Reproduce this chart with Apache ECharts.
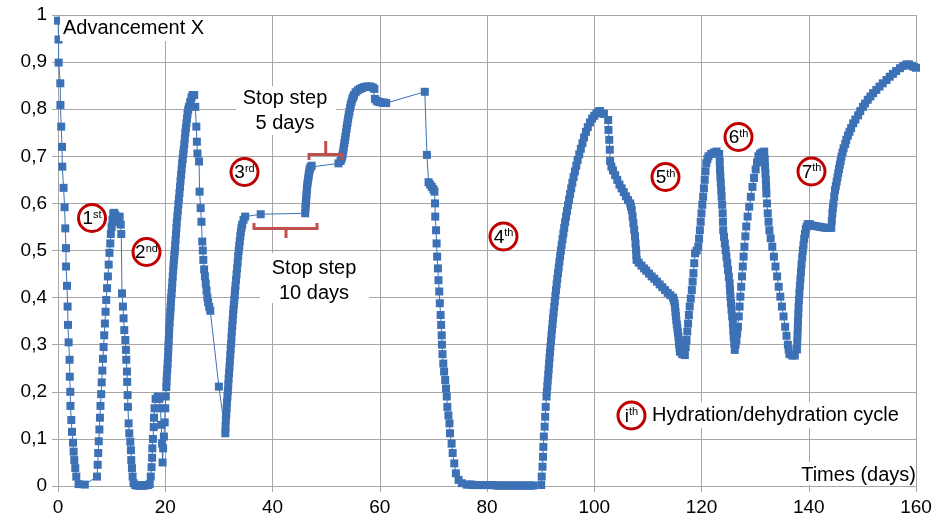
<!DOCTYPE html>
<html><head><meta charset="utf-8">
<script src="https://cdn.jsdelivr.net/npm/echarts@6/dist/echarts.min.js"></script>
<style>html,body{margin:0;padding:0;background:#fff}#c{width:938px;height:522px}</style>
</head><body><div id="c"></div>
<script>
// Time (days) of each measured point
const days = [
 0,0.1,0.12,0.43,0.45,0.6,0.75,0.8,1.04,1.23,1.36,1.49,1.5,1.68,1.79,1.86,1.98,2.16,2.2,2.29,2.32,2.48,2.61,2.8,2.91,3.04,3.22,3.41,3.84,5.0,
 7.27,7.4,7.5,7.6,7.72,7.82,7.92,8.05,8.15,8.27,8.38,8.5,8.62,8.75,8.87,9.0,9.15,9.3,9.45,9.6,
 9.75,9.85,10.0,10.15,10.3,10.5,10.7,10.9,11.1,11.3,11.5,11.7,11.8,
 11.93,12.11,12.23,12.36,12.55,12.67,12.73,12.86,12.9,12.98,13.04,13.17,13.29,13.48,13.6,13.66,13.79,13.91,14.1,
 14.4,14.7,15.0,15.3,15.6,15.9,16.2,16.5,16.8,17.1,
 17.3,17.45,17.55,17.6,17.7,17.85,17.9,18.0,18.2,18.6,18.9,19.1,19.25,19.4,19.5,19.6,19.75,19.9,20.0,20.1,
 20.2,20.25,20.3,20.38,20.45,20.5,20.55,20.6,20.65,20.7,20.75,20.82,20.9,20.95,21.0,21.05,21.1,21.18,21.25,21.32,21.4,21.48,21.55,21.62,21.7,21.78,21.85,21.92,22.0,22.08,22.15,22.25,22.35,22.45,22.55,22.65,22.75,22.85,22.95,23.05,23.15,23.25,23.35,23.45,23.55,23.65,23.75,23.85,23.95,24.05,24.15,24.28,24.4,24.65,24.9,25.1,25.4,
 25.6,25.8,25.9,26.0,26.3,26.4,26.6,26.75,26.9,27.0,27.1,27.25,27.4,27.55,27.7,27.85,28.0,28.2,28.4,30.0,31.2,
 31.25,31.3,31.38,31.45,31.52,31.6,31.68,31.75,31.82,31.9,31.98,32.05,32.12,32.2,32.28,32.35,32.42,32.5,32.58,32.65,32.72,32.8,32.88,32.95,33.02,33.1,33.2,33.3,33.4,33.5,33.6,33.7,33.8,33.9,34.0,34.1,34.22,34.35,34.6,34.9,
 37.8,46.1,46.15,46.2,46.25,46.3,46.35,46.4,46.45,46.52,46.6,46.68,46.75,46.82,46.9,47.0,47.1,47.3,
 52.3,52.7,52.9,53.0,53.1,53.2,53.3,53.4,53.5,53.6,53.7,53.8,53.9,54.0,54.1,54.22,54.35,54.48,54.6,54.75,54.9,55.05,55.2,55.5,55.9,56.3,56.7,57.1,57.5,57.9,58.3,58.7,59.0,
 59.1,59.4,59.7,60.0,60.4,60.8,61.2,68.4,68.8,69.1,69.4,69.7,70.0,70.2,
 70.3,70.35,70.5,70.6,70.7,70.85,70.95,71.1,71.2,71.35,71.45,71.55,71.6,71.7,71.85,72.0,72.2,72.35,72.5,72.6,72.8,73.0,73.1,73.4,73.6,73.9,74.2,74.7,75.3,76.2,
 76.7,77.2,77.7,78.2,78.7,79.2,79.7,80.2,80.7,81.2,81.7,82.2,82.7,83.2,83.7,84.2,84.7,85.2,85.7,86.2,86.7,87.2,87.7,88.2,88.6,
 90.1,90.2,90.35,90.45,90.5,90.6,90.75,90.85,90.95,91.1,
 91.17,91.25,91.33,91.42,91.5,91.58,91.66,91.75,91.84,91.93,
 92.02,92.12,92.22,92.32,92.42,92.53,92.64,92.75,92.87,92.99,
 93.11,93.24,93.37,93.5,93.64,93.78,93.93,94.08,94.24,94.4,
 94.57,94.74,94.92,95.1,95.3,95.5,95.7,95.92,96.15,96.4,
 96.65,96.9,97.2,97.5,97.8,98.1,98.45,98.8,99.2,99.6,
 100.0,100.4,100.8,101.1,
 101.8,102.6,102.65,102.8,102.9,102.95,103.2,103.5,103.9,104.3,104.7,105.1,105.5,105.9,106.3,106.7,106.85,107.0,107.15,107.3,107.45,107.6,107.7,107.8,107.85,107.9,
 108.3,108.8,109.3,109.7,110.2,110.7,111.2,111.7,112.2,112.7,113.2,113.7,114.2,114.7,
 114.85,115.0,115.08,115.15,115.22,115.3,115.4,115.5,115.6,115.7,115.78,115.85,115.92,116.0,116.4,116.9,
 117.05,117.2,117.35,117.5,117.65,117.8,118.0,118.2,118.35,118.5,
 118.65,118.8,119.1,119.4,119.55,119.7,119.85,120.0,120.15,120.3,
 120.45,120.6,120.75,120.9,121.1,121.3,121.8,122.3,122.8,123.3,
 123.4,123.45,123.52,123.6,123.68,123.75,123.85,123.95,124.0,124.05,
 124.2,124.35,124.5,124.65,124.8,124.95,125.1,125.25,125.32,125.4,
 125.5,125.6,125.72,125.85,125.92,126.0,126.1,126.2,
 126.35,126.5,126.65,126.8,126.95,127.1,127.25,127.4,127.55,127.7,
 127.85,128.0,128.18,128.35,128.6,128.9,129.2,129.5,129.8,130.1,
 130.35,130.6,130.9,131.2,131.7,
 131.8,131.85,131.92,132.0,132.05,132.1,132.22,132.35,132.5,132.65,
 132.9,133.2,133.5,133.8,134.1,134.4,134.7,135.0,135.3,135.6,
 135.85,136.1,136.25,136.4,136.9,137.4,
 137.8,137.85,137.9,137.95,138.0,138.05,138.1,138.17,138.25,138.35,
 138.45,138.55,138.65,138.78,138.9,139.02,139.15,139.3,139.45,139.6,139.8,
 140.2,140.7,141.2,141.7,142.2,142.7,143.2,143.7,144.2,
 144.3,144.4,144.5,144.6,144.75,144.9,145.05,145.2,145.35,145.5,
 145.65,145.8,145.95,146.1,146.3,146.5,146.8,147.0,147.3,147.6,
 147.9,148.3,148.7,149.2,149.6,150.1,150.5,151.0,151.5,152.0,
 152.6,153.2,153.8,154.5,155.1,155.7,156.3,157.0,157.6,158.2,
 158.7,159.2,159.6,160.0
];
// Advancement X at each point
const advancement = [
 0.988,0.948,0.899,0.855,0.809,0.763,0.72,0.678,0.633,0.592,0.547,0.505,0.466,0.425,0.381,0.342,0.305,0.268,0.232,0.2,0.17,0.14,0.115,0.092,0.073,0.055,0.038,0.02,0.004,0.003,
 0.02,0.045,0.07,0.095,0.12,0.145,0.17,0.195,0.22,0.245,0.27,0.295,0.32,0.345,0.37,0.395,0.42,0.445,0.47,0.495,
 0.515,0.535,0.55,0.565,0.578,0.58,0.575,0.565,0.56,0.57,0.572,0.555,0.535,
 0.409,0.381,0.356,0.331,0.31,0.289,0.268,0.243,0.221,0.193,0.168,0.133,0.112,0.094,0.076,0.055,0.038,0.02,0.006,
 0.002,0.001,0.001,0.001,0.001,0.001,0.001,0.002,0.002,0.004,
 0.02,0.04,0.06,0.08,0.1,0.125,0.145,0.165,0.185,0.19,0.185,0.165,0.13,0.09,0.05,0.08,0.105,0.135,0.165,0.19,
 0.21,0.222,0.235,0.248,0.26,0.272,0.285,0.298,0.31,0.322,0.335,0.348,0.36,0.37,0.38,0.39,0.4,0.41,0.42,0.432,0.445,0.458,0.47,0.48,0.49,0.5,0.51,0.522,0.535,0.548,0.56,0.572,0.585,0.598,0.61,0.622,0.635,0.648,0.66,0.672,0.685,0.695,0.705,0.715,0.725,0.738,0.75,0.76,0.77,0.78,0.79,0.798,0.805,0.815,0.825,0.83,0.83,
 0.805,0.763,0.731,0.706,0.689,0.625,0.59,0.561,0.519,0.5,0.48,0.46,0.445,0.43,0.415,0.4,0.39,0.38,0.372,0.211,0.112,
 0.126,0.14,0.152,0.165,0.178,0.19,0.202,0.215,0.228,0.24,0.252,0.265,0.278,0.29,0.302,0.315,0.328,0.34,0.352,0.365,0.375,0.385,0.395,0.405,0.415,0.425,0.438,0.45,0.462,0.475,0.488,0.5,0.51,0.52,0.53,0.54,0.548,0.555,0.565,0.572,
 0.577,0.579,0.59,0.598,0.605,0.612,0.62,0.628,0.635,0.642,0.648,0.654,0.66,0.665,0.67,0.674,0.677,0.68,
 0.685,0.69,0.695,0.7,0.705,0.712,0.72,0.728,0.735,0.742,0.75,0.758,0.765,0.772,0.78,0.788,0.795,0.803,0.81,0.816,0.822,0.826,0.83,0.836,0.84,0.843,0.845,0.847,0.848,0.848,0.848,0.846,0.843,
 0.822,0.818,0.816,0.815,0.814,0.814,0.813,0.837,0.703,0.645,0.64,0.635,0.63,0.625,
 0.6,0.572,0.543,0.515,0.487,0.462,0.437,0.413,0.388,0.363,0.342,0.32,0.3,0.28,0.26,0.243,0.225,0.207,0.19,0.168,0.15,0.133,0.112,0.09,0.07,0.048,0.027,0.013,0.006,0.003,
 0.003,0.003,0.002,0.002,0.002,0.002,0.002,0.002,0.002,0.002,0.001,0.001,0.001,0.001,0.001,0.001,0.001,0.001,0.001,0.001,0.001,0.001,0.001,0.001,0.001,
 0.002,0.02,0.041,0.062,0.083,0.105,0.126,0.147,0.168,0.19,
 0.2,0.212,0.224,0.236,0.248,0.26,0.272,0.284,0.296,0.308,
 0.32,0.332,0.344,0.356,0.368,0.38,0.392,0.404,0.416,0.428,
 0.44,0.452,0.464,0.476,0.488,0.5,0.512,0.524,0.536,0.548,
 0.56,0.572,0.584,0.596,0.608,0.62,0.632,0.644,0.656,0.668,
 0.68,0.692,0.704,0.716,0.728,0.74,0.752,0.762,0.772,0.78,
 0.786,0.791,0.795,0.796,
 0.79,0.777,0.756,0.735,0.714,0.69,0.678,0.67,0.66,0.65,0.64,0.632,0.624,0.615,0.607,0.6,0.593,0.586,0.572,0.558,0.544,0.53,0.515,0.501,0.49,0.48,
 0.474,0.468,0.462,0.457,0.451,0.445,0.44,0.434,0.428,0.422,0.416,0.41,0.405,0.4,
 0.394,0.388,0.379,0.37,0.361,0.352,0.343,0.335,0.326,0.317,0.308,0.3,0.292,0.285,0.28,0.278,
 0.295,0.31,0.328,0.345,0.363,0.381,0.398,0.416,0.434,0.452,
 0.473,0.494,0.5,0.508,0.525,0.543,0.561,0.579,0.597,0.614,
 0.632,0.65,0.668,0.685,0.694,0.7,0.705,0.708,0.71,0.705,
 0.688,0.671,0.657,0.643,0.628,0.614,0.597,0.579,0.561,0.543,
 0.529,0.515,0.501,0.487,0.473,0.459,0.444,0.43,0.416,0.402,
 0.388,0.374,0.36,0.345,0.331,0.317,0.303,0.289,
 0.3,0.31,0.324,0.338,0.36,0.381,0.402,0.423,0.445,0.466,
 0.487,0.508,0.53,0.551,0.572,0.593,0.614,0.635,0.654,0.672,
 0.687,0.7,0.705,0.708,0.71,
 0.694,0.678,0.664,0.65,0.636,0.621,0.6,0.579,0.561,0.543,
 0.526,0.508,0.487,0.466,0.445,0.423,0.402,0.381,0.36,0.338,
 0.319,0.3,0.29,0.28,0.277,0.277,
 0.29,0.305,0.32,0.335,0.35,0.365,0.38,0.395,0.41,0.425,
 0.44,0.455,0.47,0.485,0.5,0.512,0.525,0.535,0.545,0.55,0.556,
 0.556,0.553,0.552,0.551,0.55,0.549,0.548,0.548,0.548,
 0.563,0.579,0.59,0.6,0.614,0.628,0.637,0.646,0.655,0.664,
 0.673,0.682,0.69,0.699,0.708,0.717,0.726,0.735,0.744,0.752,
 0.76,0.77,0.778,0.787,0.796,0.805,0.812,0.82,0.827,0.834,
 0.841,0.848,0.855,0.862,0.869,0.875,0.881,0.887,0.892,0.895,
 0.895,0.892,0.89,0.888
];
if (days.length !== advancement.length) console.error('length mismatch', days.length, advancement.length);
const xTicks = [0,20,40,60,80,100,120,140,160];
const yTickLabels = ['0','0,1','0,2','0,3','0,4','0,5','0,6','0,7','0,8','0,9','1'];
const cycleNumbers = ['1','2','3','4','5','6','7'];
const cycleSuffixes = ['st','nd','rd','th','th','th','th'];
const yTitle = 'Advancement X';
const xTitle = 'Times (days)';
const stop5Text = 'Stop step\n5 days';
const stop10Text = 'Stop step\n10 days';
const legendText = 'Hydration/dehydration cycle';

const FONT = '"Liberation Sans", Arial, sans-serif';
const BLUE = '#3D71B6';
const RED = '#C00000';
const BRACKET = '#C0504D';
const GRID = '#A6A6A6';

const chart = echarts.init(document.getElementById('c'), null, {renderer: 'canvas'});

// circle label positions (layout only)
const circlePos = [[92,218],[146.5,252],[244.5,172],[503.5,236.5],[665.5,177],[738.5,137],[811.5,171.5]];
const graphics = [];
function circleLabel(cx, cy, num, suf) {
  graphics.push({type:'circle', shape:{cx:cx, cy:cy, r:13.5}, style:{fill:'#fff', stroke:RED, lineWidth:3}, z:10});
  graphics.push({type:'text', x:cx, y:cy+1, z:11, style:{
    text:'{n|'+num+'}{s|'+suf+'}', align:'center', verticalAlign:'middle',
    rich:{n:{fontSize:19, fontFamily:FONT, fill:'#000', lineHeight:20, verticalAlign:'middle'},
          s:{fontSize:11, fontFamily:FONT, fill:'#000', lineHeight:11, verticalAlign:'top'}}
  }});
}
cycleNumbers.forEach((n,i)=>circleLabel(circlePos[i][0], circlePos[i][1], n, cycleSuffixes[i]));
circleLabel(631.5, 415.5, 'i', 'th');

function box(x,y,w,h){ graphics.push({type:'rect', shape:{x:x,y:y,width:w,height:h}, style:{fill:'#fff'}, z:5}); }
function txt(x,y,t,align,lh){ graphics.push({type:'text', x:x, y:y, z:6, style:{text:t, fontSize:20, fontFamily:FONT, fill:'#000', align:align, verticalAlign:'middle', lineHeight:lh||24}}); }

box(60,16,150,25); txt(63,28,yTitle,'left');
box(236,86,100,49); txt(285,111,stop5Text,'center',24.5);
box(260,253,109,50); txt(314,281,stop10Text,'center',24.5);
box(797,462,119,23); txt(916,475,xTitle,'right');
box(650,402,256,26); txt(652,415,legendText,'left');

// brackets
graphics.push({type:'polyline', shape:{points:[[254,223],[254,228.5],[317,228.5],[317,223]]}, style:{stroke:BRACKET, lineWidth:3, fill:null}, z:7});
graphics.push({type:'line', shape:{x1:286,y1:228.5,x2:286,y2:238}, style:{stroke:BRACKET, lineWidth:3}, z:7});
graphics.push({type:'polyline', shape:{points:[[309,160],[309,154.5],[342,154.5],[342,160]]}, style:{stroke:BRACKET, lineWidth:3, fill:null}, z:7});
graphics.push({type:'line', shape:{x1:325.7,y1:154.5,x2:325.7,y2:141}, style:{stroke:BRACKET, lineWidth:3}, z:7});

chart.setOption({
  animation:false,
  backgroundColor:'#fff',
  grid:{left:58, right:22, top:15, bottom:36, containLabel:false},
  xAxis:{type:'value', min:xTicks[0], max:xTicks[xTicks.length-1], interval:20,
    axisLine:{show:true, lineStyle:{color:GRID}}, axisTick:{show:true, length:6, lineStyle:{color:GRID}},
    axisLabel:{fontSize:19, fontFamily:FONT, color:'#000', margin:12},
    splitLine:{show:true, lineStyle:{color:GRID, width:1}}},
  yAxis:{type:'value', min:0, max:1, interval:0.1,
    axisLine:{show:true, lineStyle:{color:GRID}}, axisTick:{show:true, length:6, lineStyle:{color:GRID}},
    axisLabel:{fontSize:19, fontFamily:FONT, color:'#000', margin:11, formatter:v=>yTickLabels[Math.round(v*10)]},
    splitLine:{show:true, lineStyle:{color:GRID, width:1}}},
  series:[{type:'line', data:days.map((d,i)=>[d, advancement[i]]), symbol:'rect', symbolSize:8, showAllSymbol:true,
    itemStyle:{color:BLUE}, lineStyle:{width:1, color:BLUE}, z:3}],
  graphic:graphics
});
</script></body></html>
